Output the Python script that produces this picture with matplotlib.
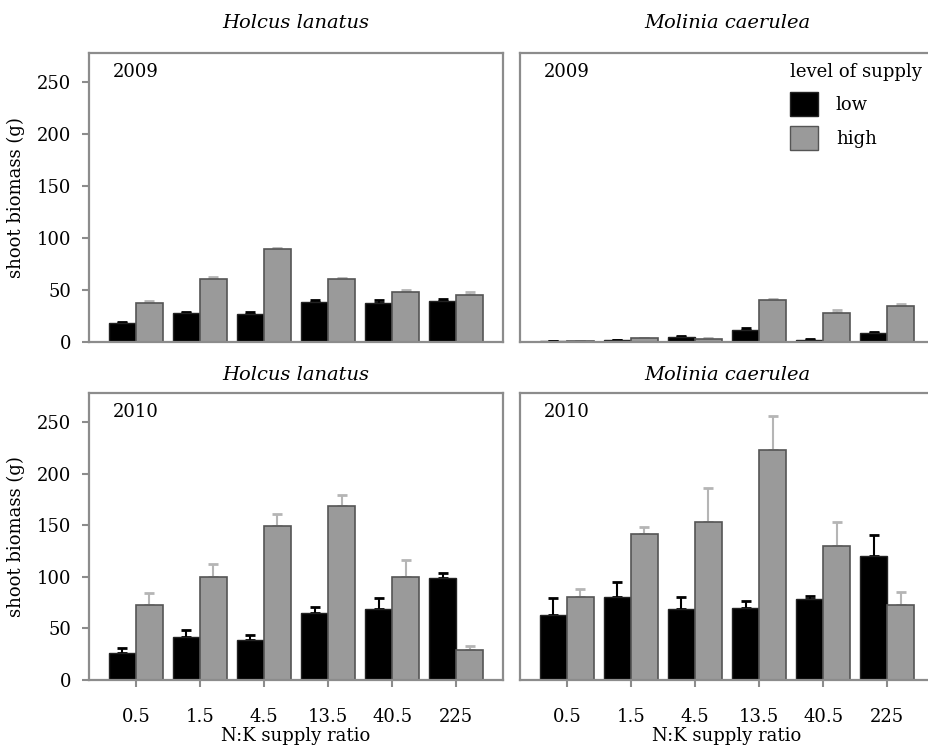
import numpy as np
from matplotlib import pyplot as plt
from matplotlib.patches import Patch

# N:K supply ratios (x categories)
ratios = ["0.5", "1.5", "4.5", "13.5", "40.5", "225"]

# shoot biomass (g)
holcus_2009_low = [18, 28, 27, 38.5, 37.5, 39.5]
holcus_2009_low_err = [1, 1, 1.5, 2, 2.5, 2]
holcus_2009_high = [37.5, 60.5, 89, 60.5, 48, 45]
holcus_2009_high_err = [1.5, 2.5, 1.5, 1.5, 2.5, 3]

molinia_2009_low = [0.7, 1.5, 5, 11.5, 2, 8.5]
molinia_2009_low_err = [0.3, 0.5, 1, 1.5, 0.5, 1.5]
molinia_2009_high = [0.8, 3.5, 3, 40, 28, 35]
molinia_2009_high_err = [0.3, 0.8, 0.5, 1.5, 2.5, 1.5]

holcus_2010_low = [26, 42, 38.5, 64.5, 69, 99]
holcus_2010_low_err = [5, 6.5, 5, 6, 10.5, 5]
holcus_2010_high = [72.5, 100, 149, 169, 100, 29]
holcus_2010_high_err = [12, 12, 12, 10, 16, 3.5]

molinia_2010_low = [63, 80.5, 68.5, 70, 78, 120]
molinia_2010_low_err = [16, 14.5, 11.5, 7, 3, 20]
molinia_2010_high = [80, 141, 153.5, 223, 130, 73]
molinia_2010_high_err = [8.5, 7.5, 32.5, 33, 23.5, 12]

plt.rcParams['font.family'] = ['DejaVu Serif']
plt.rcParams['font.size'] = 12

low_col = '#000000'
high_col = '#9a9a9a'
spine_col = '#8c8c8c'
bw = 0.42

fig = plt.figure(figsize=(9.29, 7.48), dpi=100)

L1, L2, W = 89 / 929, 520 / 929, 414 / 929
top_b, top_h = 1 - 342 / 748, 289 / 748
bot_b, bot_h = 1 - 680 / 748, 287 / 748

panels = [
    ([L1, top_b, W, top_h], holcus_2009_low, holcus_2009_low_err, holcus_2009_high, holcus_2009_high_err, "Holcus lanatus", "2009", True, False),
    ([L2, top_b, W, top_h], molinia_2009_low, molinia_2009_low_err, molinia_2009_high, molinia_2009_high_err, "Molinia caerulea", "2009", False, False),
    ([L1, bot_b, W, bot_h], holcus_2010_low, holcus_2010_low_err, holcus_2010_high, holcus_2010_high_err, "Holcus lanatus", "2010", True, True),
    ([L2, bot_b, W, bot_h], molinia_2010_low, molinia_2010_low_err, molinia_2010_high, molinia_2010_high_err, "Molinia caerulea", "2010", False, True),
]

x = np.arange(len(ratios))
axes = []
for pos, lo, lo_e, hi, hi_e, title, year, left, bottom in panels:
    ax = fig.add_axes(pos)
    axes.append(ax)
    ax.bar(x - bw / 2, lo, bw, color=low_col, edgecolor='#222222', linewidth=1, zorder=2)
    ax.bar(x + bw / 2, hi, bw, color=high_col, edgecolor='#555555', linewidth=1.2, zorder=2)
    ax.errorbar(x - bw / 2, lo, yerr=[np.zeros(len(lo)), lo_e], fmt='none',
                ecolor=low_col, elinewidth=1.5, capsize=3.5, capthick=2, zorder=1)
    ax.errorbar(x + bw / 2, hi, yerr=[np.zeros(len(hi)), hi_e], fmt='none',
                ecolor='#b5b5b5', elinewidth=1.5, capsize=3.5, capthick=2, zorder=1)
    ax.set_xlim(-0.73, 5.73)
    ax.set_ylim(0, 278)
    for s in ax.spines.values():
        s.set_color(spine_col)
        s.set_linewidth(1.6)
    # top row titles sit a bit higher than the bottom row ones
    ax.set_title(title, style='italic', fontsize=14, pad=9 if bottom else 18)
    ax.text(0.058, 0.935, year, transform=ax.transAxes, fontsize=13, va='center', ha='left')
    ax.set_yticks([0, 50, 100, 150, 200, 250])
    if left:
        ax.tick_params(axis='y', length=5, width=1.5, color=spine_col, pad=8, labelsize=13)
        ax.set_ylabel("shoot biomass (g)", fontsize=13, labelpad=8)
    else:
        ax.tick_params(axis='y', length=0, labelleft=False)
    ax.set_xticks(x)
    if bottom:
        ax.set_xticklabels(ratios)
        ax.tick_params(axis='x', length=5, width=1.5, color=spine_col, pad=15, labelsize=13)
        ax.set_xlabel("N:K supply ratio", fontsize=13, labelpad=1)
    else:
        ax.tick_params(axis='x', length=0, labelbottom=False)

handles = [Patch(facecolor=low_col, edgecolor='#222222'), Patch(facecolor=high_col, edgecolor='#555555')]
axes[1].legend(handles, ["low", "high"], title="level of supply", loc='upper left',
               bbox_to_anchor=(0.63, 0.995), frameon=False, fontsize=13, title_fontsize=13,
               handlelength=1.55, handleheight=1.6, handletextpad=1.0, labelspacing=0.6,
               borderpad=0, alignment='left')

plt.savefig("out.png", dpi=100)
plt.close()
